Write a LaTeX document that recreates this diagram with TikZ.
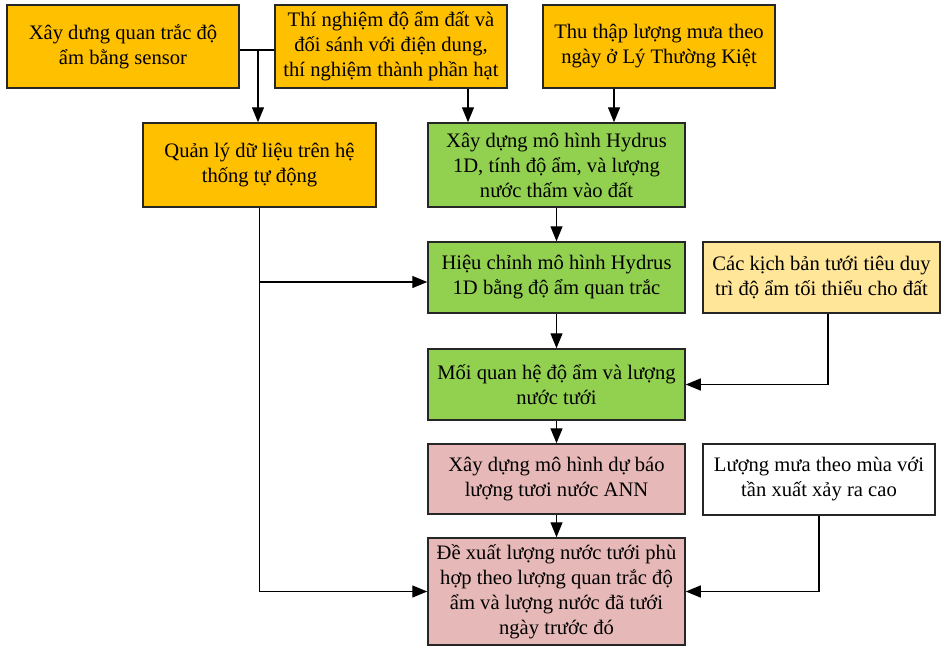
\documentclass[tikz,border=0pt]{standalone}
\usepackage{fontspec}
\setmainfont{Liberation Serif}
\usetikzlibrary{arrows.meta}
\definecolor{gold}{HTML}{FFC000}
\definecolor{leaf}{HTML}{92D050}
\definecolor{cream}{HTML}{FFE699}
\definecolor{rose}{HTML}{E6B8B7}
\definecolor{edge}{HTML}{262626}

\begin{document}
\begin{tikzpicture}[x=1pt,y=-1pt,
  box/.style={draw=edge, line width=1.5pt, align=center, inner sep=0pt,
    font=\fontsize{20.6}{25}\selectfont},
  link/.style={draw=black, line width=1.3pt, -{Triangle[length=15pt,width=12pt]}},
  plain/.style={draw=black, line width=1.3pt}]
\useasboundingbox (0,0) rectangle (944,648);

% top row: data collection
\node[box, fill=gold, minimum width=232pt, minimum height=83pt] (A) at (123,46.5)
  {Xây dưng quan trắc độ\\ẩm bằng sensor};
\node[box, fill=gold, minimum width=232pt, minimum height=83pt] (B) at (391,46.5)
  {Thí nghiệm độ ẩm đất và\\đối sánh với điện dung,\\thí nghiệm thành phần hạt};
\node[box, fill=gold, minimum width=232pt, minimum height=83pt] (C) at (659,46.5)
  {Thu thập lượng mưa theo\\ngày ở Lý Thường Kiệt};

% data management and Hydrus model
\node[box, fill=gold, minimum width=233pt, minimum height=84pt] (D) at (259.5,165)
  {Quản lý dữ liệu trên hệ\\thống tự động};
\node[box, fill=leaf, minimum width=257pt, minimum height=84pt] (E) at (556.5,165)
  {Xây dựng mô hình Hydrus\\1D, tính độ ẩm, và lượng\\nước thấm vào đất};
\node[box, fill=leaf, minimum width=257pt, minimum height=71pt] (F) at (556.5,277.5)
  {Hiệu chỉnh mô hình Hydrus\\1D bằng độ ẩm quan trắc};
\node[box, fill=cream, minimum width=237pt, minimum height=71pt] (G) at (821.5,277.5)
  {Các kịch bản tưới tiêu duy\\trì độ ẩm tối thiểu cho đất};
\node[box, fill=leaf, minimum width=257pt, minimum height=71pt] (H) at (556.5,384.5)
  {Mối quan hệ độ ẩm và lượng\\nước tưới};

% forecasting and proposal
\node[box, fill=rose, minimum width=257pt, minimum height=70pt] (I) at (556.5,479)
  {Xây dựng mô hình dự báo\\lượng tươi nước ANN};
\node[box, fill=white, minimum width=232pt, minimum height=71pt] (J) at (819,479.5)
  {Lượng mưa theo mùa với\\tần xuất xảy ra cao};
\node[box, fill=rose, minimum width=257pt, minimum height=107pt] (K) at (556.5,591.5)
  {Đề xuất lượng nước tưới phù\\hợp theo lượng quan trắc độ\\ẩm và lượng nước đã tưới\\ngày trước đó};

% junction points
\coordinate (ab) at (258,50);
\coordinate (bx) at (468,0);
\coordinate (cx) at (614,0);
\coordinate (dy) at (0,282);
\coordinate (gx) at (828,0);

% connectors
\draw[plain] (A.east |- ab) -- (B.west |- ab);
\draw[link] (ab) -- (D.north -| ab);
\draw[link] (B.south -| bx) -- (E.north -| bx);
\draw[link] (C.south -| cx) -- (E.north -| cx);
\draw[link] (E.south) -- (F.north);
\draw[link] (F.south) -- (H.north);
\draw[link] (H.south) -- (I.north);
\draw[link] (I.south) -- (K.north);
\draw[link] (D.south) |- (K.west);
\draw[link] (D.south |- dy) -- (F.west |- dy);
\draw[link] (G.south -| gx) |- (H.east);
\draw[link] (J.south) |- (K.east);
\end{tikzpicture}
\end{document}
